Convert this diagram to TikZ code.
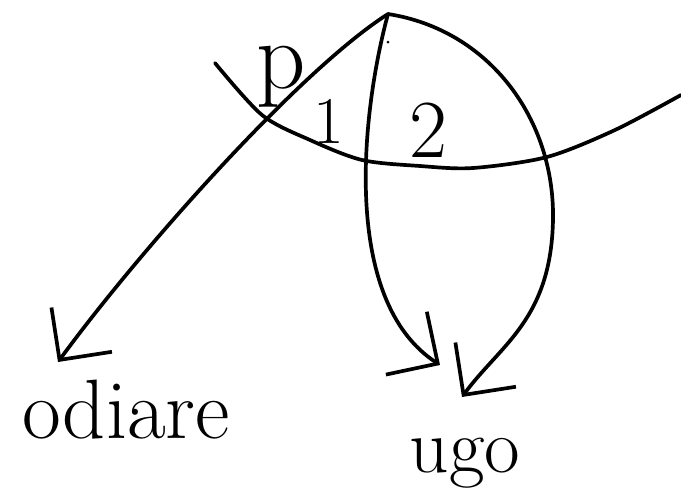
\documentclass[tikz,border=0pt]{standalone}
\usepackage{fontspec}
\usetikzlibrary{positioning,arrows.meta}

\begin{document}
\begin{tikzpicture}[
	x=0.02cm,
	y=-0.02cm,
	stroke/.style={
		line width=2.1pt,
		line cap=round,
		line join=round
	},
	barb/.style={
		-{Straight Barb[length=7.5mm,width=15mm]}
	},
	hand/.style={
		inner sep=0pt,
		anchor=base
	}
	]
	
	\useasboundingbox (0,0) rectangle (681,501);
	
	% points
	\coordinate (apex) at (388,14);
	\coordinate (tipOdiare) at (58,362);
	\coordinate (tipInner) at (440,365);
	\coordinate (tipOuter) at (462,397);
	\coordinate (bend) at (553,220);
	
	% labels
	\node[hand] (P) at (281,88) {\fontsize{55}{60}\selectfont p};
	\node[hand] (One) at (329,143) {\fontsize{38}{40}\selectfont 1};
	\node[hand] (Two) at (428,157) {\fontsize{47}{50}\selectfont 2};
	\node[hand] (Odiare) at (126,438) {\fontsize{48}{50}\selectfont odiare};
	\node[hand] (Ugo) at (465,472) {\fontsize{44}{48}\selectfont ugo};
	
	% the wide arc
	\draw[stroke]
	plot[smooth] coordinates {(215,63) (262,115) (310,140) (362,160)
		(420,166) (473,168) (547,157) (615,130) (681,95)};
	
	% the three arrows
	\draw[stroke,barb]
	(apex) .. controls (300,70) and (140,250) .. (tipOdiare);
	
	\draw[stroke,barb]
	(apex) .. controls (362,110) and (340,300) .. (tipInner);
	
	\draw[stroke,barb]
	(apex) .. controls (490,30) and (555,120) .. (bend)
	.. controls (551,320) and (500,345) .. (tipOuter);
	
	\fill (388,42) circle (1.5);
	
\end{tikzpicture}
\end{document}
